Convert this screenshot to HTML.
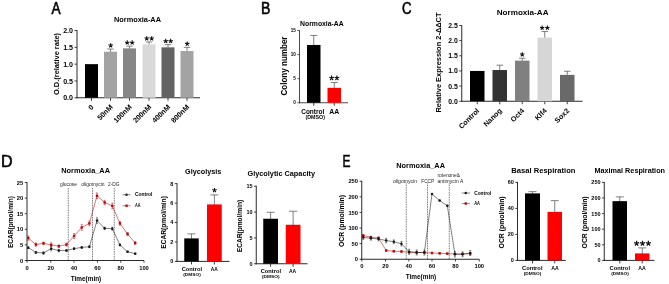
<!DOCTYPE html>
<html><head><meta charset="utf-8"><title>Figure</title>
<style>html,body{margin:0;padding:0;background:#fff;}svg{display:block;filter:blur(0.3px);}text{font-family:'Liberation Sans', sans-serif;}</style>
</head><body>
<svg width="669" height="284" viewBox="0 0 669 284">
<rect width="669" height="284" fill="#fff"/>
<text transform="translate(51.52,13.90) scale(0.854,1)" font-size="15.99" fill="#000" stroke="#000" stroke-width="0.6">A</text>
<text transform="translate(260.96,14.00) scale(0.874,1)" font-size="16.13" fill="#000" stroke="#000" stroke-width="0.6">B</text>
<text transform="translate(401.91,14.10) scale(0.817,1)" font-size="16.13" fill="#000" stroke="#000" stroke-width="0.6">C</text>
<text transform="translate(0.90,166.70) scale(0.935,1)" font-size="17.15" fill="#000" stroke="#000" stroke-width="0.6">D</text>
<text transform="translate(342.43,166.70) scale(0.697,1)" font-size="17.15" fill="#000" stroke="#000" stroke-width="0.6">E</text>
<line x1="77.00" y1="30.00" x2="77.00" y2="98.25" stroke="#2a2a2a" stroke-width="1.0" />
<line x1="76.50" y1="97.75" x2="200.00" y2="97.75" stroke="#2a2a2a" stroke-width="1.0" />
<line x1="74.50" y1="97.75" x2="77.00" y2="97.75" stroke="#2a2a2a" stroke-width="0.9" />
<text x="73.00" y="100.31" font-size="7.1" font-weight="bold" fill="#000" text-anchor="end" >0.0</text>
<line x1="74.50" y1="80.95" x2="77.00" y2="80.95" stroke="#2a2a2a" stroke-width="0.9" />
<text x="73.00" y="83.51" font-size="7.1" font-weight="bold" fill="#000" text-anchor="end" >0.5</text>
<line x1="74.50" y1="64.15" x2="77.00" y2="64.15" stroke="#2a2a2a" stroke-width="0.9" />
<text x="73.00" y="66.71" font-size="7.1" font-weight="bold" fill="#000" text-anchor="end" >1.0</text>
<line x1="74.50" y1="47.35" x2="77.00" y2="47.35" stroke="#2a2a2a" stroke-width="0.9" />
<text x="73.00" y="49.91" font-size="7.1" font-weight="bold" fill="#000" text-anchor="end" >1.5</text>
<line x1="74.50" y1="30.55" x2="77.00" y2="30.55" stroke="#2a2a2a" stroke-width="0.9" />
<text x="73.00" y="33.11" font-size="7.1" font-weight="bold" fill="#000" text-anchor="end" >2.0</text>
<text x="114.00" y="21.66" font-size="7.4" font-weight="bold" fill="#000" textLength="47.00" lengthAdjust="spacingAndGlyphs">Normoxia-AA</text>
<text transform="translate(59.45,95.00) rotate(-90)" font-size="6.8" font-weight="bold" fill="#000" textLength="62.00" lengthAdjust="spacingAndGlyphs">O.D.(relative rate)</text>
<line x1="91.50" y1="97.75" x2="91.50" y2="100.75" stroke="#2a2a2a" stroke-width="0.9" />
<rect x="85.00" y="64.15" width="13.00" height="33.60" fill="#000"/>
<text transform="translate(94.20,107.55) rotate(-45)" font-size="7.2" font-weight="bold" fill="#000" text-anchor="end">0</text>
<line x1="110.50" y1="97.75" x2="110.50" y2="100.75" stroke="#2a2a2a" stroke-width="0.9" />
<line x1="110.50" y1="49.03" x2="110.50" y2="52.22" stroke="#555" stroke-width="0.75" />
<line x1="107.25" y1="49.03" x2="113.75" y2="49.03" stroke="#555" stroke-width="0.75" />
<rect x="104.00" y="51.72" width="13.00" height="46.03" fill="#a3a3a3"/>
<path d="M110.70,45.53L110.70,43.23M110.70,45.53L112.89,44.82M110.70,45.53L112.05,47.39M110.70,45.53L109.35,47.39M110.70,45.53L108.51,44.82" stroke="#111" stroke-width="1.1" fill="none" stroke-linecap="butt"/>
<text transform="translate(113.20,107.55) rotate(-45)" font-size="7.2" font-weight="bold" fill="#000" text-anchor="end">50nM</text>
<line x1="129.50" y1="97.75" x2="129.50" y2="100.75" stroke="#2a2a2a" stroke-width="0.9" />
<line x1="129.50" y1="46.17" x2="129.50" y2="48.86" stroke="#555" stroke-width="0.75" />
<line x1="126.25" y1="46.17" x2="132.75" y2="46.17" stroke="#555" stroke-width="0.75" />
<rect x="123.00" y="48.36" width="13.00" height="49.39" fill="#868686"/>
<path d="M127.22,42.67L127.22,40.37M127.22,42.67L129.41,41.96M127.22,42.67L128.58,44.53M127.22,42.67L125.87,44.53M127.22,42.67L125.04,41.96" stroke="#111" stroke-width="1.1" fill="none" stroke-linecap="butt"/>
<path d="M132.17,42.67L132.17,40.37M132.17,42.67L134.36,41.96M132.17,42.67L133.53,44.53M132.17,42.67L130.82,44.53M132.17,42.67L129.99,41.96" stroke="#111" stroke-width="1.1" fill="none" stroke-linecap="butt"/>
<text transform="translate(132.20,107.55) rotate(-45)" font-size="7.2" font-weight="bold" fill="#000" text-anchor="end">100nM</text>
<line x1="149.00" y1="97.75" x2="149.00" y2="100.75" stroke="#2a2a2a" stroke-width="0.9" />
<line x1="149.00" y1="41.97" x2="149.00" y2="44.83" stroke="#555" stroke-width="0.75" />
<line x1="145.75" y1="41.97" x2="152.25" y2="41.97" stroke="#555" stroke-width="0.75" />
<rect x="142.50" y="44.33" width="13.00" height="53.42" fill="#d9d9d9"/>
<path d="M146.72,38.47L146.72,36.17M146.72,38.47L148.91,37.76M146.72,38.47L148.08,40.33M146.72,38.47L145.37,40.33M146.72,38.47L144.54,37.76" stroke="#111" stroke-width="1.1" fill="none" stroke-linecap="butt"/>
<path d="M151.67,38.47L151.67,36.17M151.67,38.47L153.86,37.76M151.67,38.47L153.03,40.33M151.67,38.47L150.32,40.33M151.67,38.47L149.49,37.76" stroke="#111" stroke-width="1.1" fill="none" stroke-linecap="butt"/>
<text transform="translate(151.70,107.55) rotate(-45)" font-size="7.2" font-weight="bold" fill="#000" text-anchor="end">200nM</text>
<line x1="168.00" y1="97.75" x2="168.00" y2="100.75" stroke="#2a2a2a" stroke-width="0.9" />
<line x1="168.00" y1="44.66" x2="168.00" y2="47.85" stroke="#555" stroke-width="0.75" />
<line x1="164.75" y1="44.66" x2="171.25" y2="44.66" stroke="#555" stroke-width="0.75" />
<rect x="161.50" y="47.35" width="13.00" height="50.40" fill="#636363"/>
<path d="M165.72,41.16L165.72,38.86M165.72,41.16L167.91,40.45M165.72,41.16L167.08,43.02M165.72,41.16L164.37,43.02M165.72,41.16L163.54,40.45" stroke="#111" stroke-width="1.1" fill="none" stroke-linecap="butt"/>
<path d="M170.67,41.16L170.67,38.86M170.67,41.16L172.86,40.45M170.67,41.16L172.03,43.02M170.67,41.16L169.32,43.02M170.67,41.16L168.49,40.45" stroke="#111" stroke-width="1.1" fill="none" stroke-linecap="butt"/>
<text transform="translate(170.70,107.55) rotate(-45)" font-size="7.2" font-weight="bold" fill="#000" text-anchor="end">400nM</text>
<line x1="187.00" y1="97.75" x2="187.00" y2="100.75" stroke="#2a2a2a" stroke-width="0.9" />
<line x1="187.00" y1="47.35" x2="187.00" y2="51.55" stroke="#555" stroke-width="0.75" />
<line x1="183.75" y1="47.35" x2="190.25" y2="47.35" stroke="#555" stroke-width="0.75" />
<rect x="180.50" y="51.05" width="13.00" height="46.70" fill="#a3a3a3"/>
<path d="M187.20,43.85L187.20,41.55M187.20,43.85L189.39,43.14M187.20,43.85L188.55,45.71M187.20,43.85L185.85,45.71M187.20,43.85L185.01,43.14" stroke="#111" stroke-width="1.1" fill="none" stroke-linecap="butt"/>
<text transform="translate(189.70,107.55) rotate(-45)" font-size="7.2" font-weight="bold" fill="#000" text-anchor="end">800nM</text>
<line x1="299.50" y1="30.07" x2="299.50" y2="103.17" stroke="#2a2a2a" stroke-width="0.85" />
<line x1="299.07" y1="102.75" x2="348.00" y2="102.75" stroke="#2a2a2a" stroke-width="0.85" />
<line x1="297.30" y1="102.75" x2="299.50" y2="102.75" stroke="#2a2a2a" stroke-width="0.765" />
<text x="295.80" y="104.41" font-size="4.6" font-weight="bold" fill="#000" text-anchor="end" >0</text>
<line x1="297.30" y1="78.67" x2="299.50" y2="78.67" stroke="#2a2a2a" stroke-width="0.765" />
<text x="295.80" y="80.33" font-size="4.6" font-weight="bold" fill="#000" text-anchor="end" >5</text>
<line x1="297.30" y1="54.59" x2="299.50" y2="54.59" stroke="#2a2a2a" stroke-width="0.765" />
<text x="295.80" y="56.25" font-size="4.6" font-weight="bold" fill="#000" text-anchor="end" >10</text>
<line x1="297.30" y1="30.51" x2="299.50" y2="30.51" stroke="#2a2a2a" stroke-width="0.765" />
<text x="295.80" y="32.17" font-size="4.6" font-weight="bold" fill="#000" text-anchor="end" >15</text>
<text x="300.00" y="25.70" font-size="6.8" font-weight="bold" fill="#000" textLength="43.75" lengthAdjust="spacingAndGlyphs">Normoxia-AA</text>
<text transform="translate(286.70,95.50) rotate(-90)" font-size="8.2" font-weight="bold" fill="#000" textLength="59.00" lengthAdjust="spacingAndGlyphs">Colony number</text>
<line x1="313.75" y1="102.75" x2="313.75" y2="105.75" stroke="#2a2a2a" stroke-width="0.9" />
<line x1="313.75" y1="35.52" x2="313.75" y2="45.46" stroke="#555" stroke-width="0.75" />
<line x1="310.25" y1="35.52" x2="317.25" y2="35.52" stroke="#555" stroke-width="0.75" />
<rect x="307.00" y="44.96" width="13.50" height="57.79" fill="#000"/>
<line x1="334.25" y1="102.75" x2="334.25" y2="105.75" stroke="#2a2a2a" stroke-width="0.9" />
<line x1="334.25" y1="82.52" x2="334.25" y2="88.32" stroke="#555" stroke-width="0.75" />
<line x1="330.75" y1="82.52" x2="337.75" y2="82.52" stroke="#555" stroke-width="0.75" />
<rect x="327.50" y="87.82" width="13.50" height="14.93" fill="#ff0000"/>
<path d="M331.60,78.05L331.60,75.55M331.60,78.05L333.98,77.28M331.60,78.05L333.07,80.07M331.60,78.05L330.13,80.07M331.60,78.05L329.22,77.28" stroke="#111" stroke-width="1.15" fill="none" stroke-linecap="butt"/>
<path d="M336.90,78.05L336.90,75.55M336.90,78.05L339.28,77.28M336.90,78.05L338.37,80.07M336.90,78.05L335.43,80.07M336.90,78.05L334.52,77.28" stroke="#111" stroke-width="1.15" fill="none" stroke-linecap="butt"/>
<text x="301.25" y="113.52" font-size="7" font-weight="bold" fill="#000" textLength="23.00" lengthAdjust="spacingAndGlyphs">Control</text>
<text x="305.50" y="119.16" font-size="4.6" font-weight="bold" fill="#000" textLength="19.50" lengthAdjust="spacingAndGlyphs">(DMSO)</text>
<text x="329.25" y="113.52" font-size="7" font-weight="bold" fill="#000" textLength="10.00" lengthAdjust="spacingAndGlyphs">AA</text>
<line x1="461.75" y1="25.00" x2="461.75" y2="101.75" stroke="#2a2a2a" stroke-width="1.0" />
<line x1="461.25" y1="101.25" x2="582.50" y2="101.25" stroke="#2a2a2a" stroke-width="1.0" />
<line x1="459.25" y1="101.25" x2="461.75" y2="101.25" stroke="#2a2a2a" stroke-width="0.9" />
<text x="457.75" y="103.73" font-size="6.9" font-weight="bold" fill="#000" text-anchor="end" >0.0</text>
<line x1="459.25" y1="86.10" x2="461.75" y2="86.10" stroke="#2a2a2a" stroke-width="0.9" />
<text x="457.75" y="88.58" font-size="6.9" font-weight="bold" fill="#000" text-anchor="end" >0.5</text>
<line x1="459.25" y1="70.95" x2="461.75" y2="70.95" stroke="#2a2a2a" stroke-width="0.9" />
<text x="457.75" y="73.43" font-size="6.9" font-weight="bold" fill="#000" text-anchor="end" >1.0</text>
<line x1="459.25" y1="55.80" x2="461.75" y2="55.80" stroke="#2a2a2a" stroke-width="0.9" />
<text x="457.75" y="58.28" font-size="6.9" font-weight="bold" fill="#000" text-anchor="end" >1.5</text>
<line x1="459.25" y1="40.65" x2="461.75" y2="40.65" stroke="#2a2a2a" stroke-width="0.9" />
<text x="457.75" y="43.13" font-size="6.9" font-weight="bold" fill="#000" text-anchor="end" >2.0</text>
<line x1="459.25" y1="25.50" x2="461.75" y2="25.50" stroke="#2a2a2a" stroke-width="0.9" />
<text x="457.75" y="27.98" font-size="6.9" font-weight="bold" fill="#000" text-anchor="end" >2.5</text>
<text x="496.75" y="15.38" font-size="8" font-weight="bold" fill="#000" textLength="51.75" lengthAdjust="spacingAndGlyphs">Normoxia-AA</text>
<text transform="translate(440.63,112.50) rotate(-90)" font-size="7.3" font-weight="bold" fill="#000" textLength="100.00" lengthAdjust="spacingAndGlyphs">Relative Expression 2-ΔΔCT</text>
<line x1="477.25" y1="101.25" x2="477.25" y2="104.25" stroke="#2a2a2a" stroke-width="0.9" />
<rect x="470.00" y="70.95" width="14.50" height="30.30" fill="#000"/>
<text transform="translate(479.75,111.25) rotate(-45)" font-size="7.2" font-weight="bold" fill="#000" text-anchor="end">Control</text>
<line x1="499.75" y1="101.25" x2="499.75" y2="104.25" stroke="#2a2a2a" stroke-width="0.9" />
<line x1="499.75" y1="65.19" x2="499.75" y2="70.54" stroke="#555" stroke-width="0.75" />
<line x1="496.50" y1="65.19" x2="503.00" y2="65.19" stroke="#555" stroke-width="0.75" />
<rect x="492.50" y="70.04" width="14.50" height="31.21" fill="#333333"/>
<text transform="translate(502.25,111.25) rotate(-45)" font-size="7.2" font-weight="bold" fill="#000" text-anchor="end">Nanog</text>
<line x1="522.25" y1="101.25" x2="522.25" y2="104.25" stroke="#2a2a2a" stroke-width="0.9" />
<line x1="522.25" y1="58.22" x2="522.25" y2="61.15" stroke="#555" stroke-width="0.75" />
<line x1="519.00" y1="58.22" x2="525.50" y2="58.22" stroke="#555" stroke-width="0.75" />
<rect x="515.00" y="60.65" width="14.50" height="40.60" fill="#808080"/>
<path d="M522.25,54.52L522.25,52.22M522.25,54.52L524.44,53.81M522.25,54.52L523.60,56.38M522.25,54.52L520.90,56.38M522.25,54.52L520.06,53.81" stroke="#111" stroke-width="1.1" fill="none" stroke-linecap="butt"/>
<text transform="translate(524.75,111.25) rotate(-45)" font-size="7.2" font-weight="bold" fill="#000" text-anchor="end">Oct4</text>
<line x1="544.75" y1="101.25" x2="544.75" y2="104.25" stroke="#2a2a2a" stroke-width="0.9" />
<line x1="544.75" y1="31.56" x2="544.75" y2="38.12" stroke="#555" stroke-width="0.75" />
<line x1="541.50" y1="31.56" x2="548.00" y2="31.56" stroke="#555" stroke-width="0.75" />
<rect x="537.50" y="37.62" width="14.50" height="63.63" fill="#d6d6d6"/>
<path d="M542.12,27.86L542.12,25.56M542.12,27.86L544.31,27.15M542.12,27.86L543.48,29.72M542.12,27.86L540.77,29.72M542.12,27.86L539.94,27.15" stroke="#111" stroke-width="1.1" fill="none" stroke-linecap="butt"/>
<path d="M547.38,27.86L547.38,25.56M547.38,27.86L549.56,27.15M547.38,27.86L548.73,29.72M547.38,27.86L546.02,29.72M547.38,27.86L545.19,27.15" stroke="#111" stroke-width="1.1" fill="none" stroke-linecap="butt"/>
<text transform="translate(547.25,111.25) rotate(-45)" font-size="7.2" font-weight="bold" fill="#000" text-anchor="end">Klf4</text>
<line x1="567.25" y1="101.25" x2="567.25" y2="104.25" stroke="#2a2a2a" stroke-width="0.9" />
<line x1="567.25" y1="71.25" x2="567.25" y2="75.39" stroke="#555" stroke-width="0.75" />
<line x1="564.00" y1="71.25" x2="570.50" y2="71.25" stroke="#555" stroke-width="0.75" />
<rect x="560.00" y="74.89" width="14.50" height="26.36" fill="#696969"/>
<text transform="translate(569.75,111.25) rotate(-45)" font-size="7.2" font-weight="bold" fill="#000" text-anchor="end">Sox2</text>
<line x1="27.00" y1="182.00" x2="27.00" y2="261.00" stroke="#2a2a2a" stroke-width="1.0" />
<line x1="26.50" y1="260.50" x2="144.00" y2="260.50" stroke="#2a2a2a" stroke-width="1.0" />
<line x1="24.80" y1="260.50" x2="27.00" y2="260.50" stroke="#2a2a2a" stroke-width="0.9" />
<text x="23.30" y="262.59" font-size="5.8" font-weight="bold" fill="#000" text-anchor="end" >0</text>
<line x1="24.80" y1="244.90" x2="27.00" y2="244.90" stroke="#2a2a2a" stroke-width="0.9" />
<text x="23.30" y="246.99" font-size="5.8" font-weight="bold" fill="#000" text-anchor="end" >5</text>
<line x1="24.80" y1="229.30" x2="27.00" y2="229.30" stroke="#2a2a2a" stroke-width="0.9" />
<text x="23.30" y="231.39" font-size="5.8" font-weight="bold" fill="#000" text-anchor="end" >10</text>
<line x1="24.80" y1="213.70" x2="27.00" y2="213.70" stroke="#2a2a2a" stroke-width="0.9" />
<text x="23.30" y="215.79" font-size="5.8" font-weight="bold" fill="#000" text-anchor="end" >15</text>
<line x1="24.80" y1="198.10" x2="27.00" y2="198.10" stroke="#2a2a2a" stroke-width="0.9" />
<text x="23.30" y="200.19" font-size="5.8" font-weight="bold" fill="#000" text-anchor="end" >20</text>
<line x1="24.80" y1="182.50" x2="27.00" y2="182.50" stroke="#2a2a2a" stroke-width="0.9" />
<text x="23.30" y="184.59" font-size="5.8" font-weight="bold" fill="#000" text-anchor="end" >25</text>
<line x1="27.00" y1="260.50" x2="27.00" y2="262.70" stroke="#2a2a2a" stroke-width="0.9" />
<line x1="50.75" y1="260.50" x2="50.75" y2="262.70" stroke="#2a2a2a" stroke-width="0.9" />
<line x1="74.00" y1="260.50" x2="74.00" y2="262.70" stroke="#2a2a2a" stroke-width="0.9" />
<line x1="97.50" y1="260.50" x2="97.50" y2="262.70" stroke="#2a2a2a" stroke-width="0.9" />
<line x1="120.75" y1="260.50" x2="120.75" y2="262.70" stroke="#2a2a2a" stroke-width="0.9" />
<line x1="144.00" y1="260.50" x2="144.00" y2="262.70" stroke="#2a2a2a" stroke-width="0.9" />
<text x="27.00" y="269.69" font-size="5.8" font-weight="bold" fill="#000" text-anchor="middle" >0</text>
<text x="50.75" y="269.69" font-size="5.8" font-weight="bold" fill="#000" text-anchor="middle" >20</text>
<text x="74.00" y="269.69" font-size="5.8" font-weight="bold" fill="#000" text-anchor="middle" >40</text>
<text x="97.50" y="269.69" font-size="5.8" font-weight="bold" fill="#000" text-anchor="middle" >60</text>
<text x="120.75" y="269.69" font-size="5.8" font-weight="bold" fill="#000" text-anchor="middle" >80</text>
<text x="144.00" y="269.69" font-size="5.8" font-weight="bold" fill="#000" text-anchor="middle" >100</text>
<text x="61.25" y="172.66" font-size="7.4" font-weight="bold" fill="#000" textLength="48.75" lengthAdjust="spacingAndGlyphs">Normoxia_AA</text>
<text x="70.75" y="281.27" font-size="7" font-weight="bold" fill="#000" textLength="30.50" lengthAdjust="spacingAndGlyphs">Time(min)</text>
<text transform="translate(12.91,248.00) rotate(-90)" font-size="6.7" font-weight="bold" fill="#000" textLength="52.00" lengthAdjust="spacingAndGlyphs">ECAR(pmol/min)</text>
<line x1="68.25" y1="188.00" x2="68.25" y2="260.50" stroke="#222" stroke-width="0.7" stroke-dasharray="0.9,0.8"/>
<line x1="92.50" y1="188.00" x2="92.50" y2="260.50" stroke="#222" stroke-width="0.7" stroke-dasharray="0.9,0.8"/>
<line x1="114.25" y1="188.00" x2="114.25" y2="260.50" stroke="#222" stroke-width="0.7" stroke-dasharray="0.9,0.8"/>
<text x="60.00" y="186.34" font-size="5.1" font-weight="normal" fill="#262626" textLength="17.00" lengthAdjust="spacingAndGlyphs">glucose</text>
<text x="81.25" y="186.34" font-size="5.1" font-weight="normal" fill="#262626" textLength="23.25" lengthAdjust="spacingAndGlyphs">oligomycin</text>
<text x="108.00" y="186.34" font-size="5.1" font-weight="normal" fill="#262626" textLength="11.50" lengthAdjust="spacingAndGlyphs">2-DG</text>
<polyline fill="none" stroke="#1a1a1a" stroke-width="0.55" points="28.25,247.71 35.89,252.39 43.53,253.01 51.17,248.64 58.81,250.52 66.45,250.52 74.09,248.64 81.73,247.40 89.37,246.77 97.01,220.56 104.65,228.36 112.29,228.68 119.93,244.90 127.57,251.76 135.21,253.64"/>
<line x1="28.25" y1="246.77" x2="28.25" y2="248.64" stroke="#1a1a1a" stroke-width="0.5" />
<line x1="27.25" y1="246.77" x2="29.25" y2="246.77" stroke="#1a1a1a" stroke-width="0.5" />
<line x1="27.25" y1="248.64" x2="29.25" y2="248.64" stroke="#1a1a1a" stroke-width="0.5" />
<circle cx="28.25" cy="247.71" r="1.25" fill="#1a1a1a"/>
<line x1="35.89" y1="251.45" x2="35.89" y2="253.32" stroke="#1a1a1a" stroke-width="0.5" />
<line x1="34.89" y1="251.45" x2="36.89" y2="251.45" stroke="#1a1a1a" stroke-width="0.5" />
<line x1="34.89" y1="253.32" x2="36.89" y2="253.32" stroke="#1a1a1a" stroke-width="0.5" />
<circle cx="35.89" cy="252.39" r="1.25" fill="#1a1a1a"/>
<line x1="43.53" y1="251.76" x2="43.53" y2="254.26" stroke="#1a1a1a" stroke-width="0.5" />
<line x1="42.53" y1="251.76" x2="44.53" y2="251.76" stroke="#1a1a1a" stroke-width="0.5" />
<line x1="42.53" y1="254.26" x2="44.53" y2="254.26" stroke="#1a1a1a" stroke-width="0.5" />
<circle cx="43.53" cy="253.01" r="1.25" fill="#1a1a1a"/>
<line x1="51.17" y1="246.46" x2="51.17" y2="250.83" stroke="#1a1a1a" stroke-width="0.5" />
<line x1="50.17" y1="246.46" x2="52.17" y2="246.46" stroke="#1a1a1a" stroke-width="0.5" />
<line x1="50.17" y1="250.83" x2="52.17" y2="250.83" stroke="#1a1a1a" stroke-width="0.5" />
<circle cx="51.17" cy="248.64" r="1.25" fill="#1a1a1a"/>
<line x1="58.81" y1="249.27" x2="58.81" y2="251.76" stroke="#1a1a1a" stroke-width="0.5" />
<line x1="57.81" y1="249.27" x2="59.81" y2="249.27" stroke="#1a1a1a" stroke-width="0.5" />
<line x1="57.81" y1="251.76" x2="59.81" y2="251.76" stroke="#1a1a1a" stroke-width="0.5" />
<circle cx="58.81" cy="250.52" r="1.25" fill="#1a1a1a"/>
<line x1="66.45" y1="249.58" x2="66.45" y2="251.45" stroke="#1a1a1a" stroke-width="0.5" />
<line x1="65.45" y1="249.58" x2="67.45" y2="249.58" stroke="#1a1a1a" stroke-width="0.5" />
<line x1="65.45" y1="251.45" x2="67.45" y2="251.45" stroke="#1a1a1a" stroke-width="0.5" />
<circle cx="66.45" cy="250.52" r="1.25" fill="#1a1a1a"/>
<line x1="74.09" y1="247.71" x2="74.09" y2="249.58" stroke="#1a1a1a" stroke-width="0.5" />
<line x1="73.09" y1="247.71" x2="75.09" y2="247.71" stroke="#1a1a1a" stroke-width="0.5" />
<line x1="73.09" y1="249.58" x2="75.09" y2="249.58" stroke="#1a1a1a" stroke-width="0.5" />
<circle cx="74.09" cy="248.64" r="1.25" fill="#1a1a1a"/>
<line x1="81.73" y1="246.46" x2="81.73" y2="248.33" stroke="#1a1a1a" stroke-width="0.5" />
<line x1="80.73" y1="246.46" x2="82.73" y2="246.46" stroke="#1a1a1a" stroke-width="0.5" />
<line x1="80.73" y1="248.33" x2="82.73" y2="248.33" stroke="#1a1a1a" stroke-width="0.5" />
<circle cx="81.73" cy="247.40" r="1.25" fill="#1a1a1a"/>
<line x1="89.37" y1="245.84" x2="89.37" y2="247.71" stroke="#1a1a1a" stroke-width="0.5" />
<line x1="88.37" y1="245.84" x2="90.37" y2="245.84" stroke="#1a1a1a" stroke-width="0.5" />
<line x1="88.37" y1="247.71" x2="90.37" y2="247.71" stroke="#1a1a1a" stroke-width="0.5" />
<circle cx="89.37" cy="246.77" r="1.25" fill="#1a1a1a"/>
<line x1="97.01" y1="217.76" x2="97.01" y2="223.37" stroke="#1a1a1a" stroke-width="0.5" />
<line x1="96.01" y1="217.76" x2="98.01" y2="217.76" stroke="#1a1a1a" stroke-width="0.5" />
<line x1="96.01" y1="223.37" x2="98.01" y2="223.37" stroke="#1a1a1a" stroke-width="0.5" />
<circle cx="97.01" cy="220.56" r="1.25" fill="#1a1a1a"/>
<line x1="104.65" y1="227.12" x2="104.65" y2="229.61" stroke="#1a1a1a" stroke-width="0.5" />
<line x1="103.65" y1="227.12" x2="105.65" y2="227.12" stroke="#1a1a1a" stroke-width="0.5" />
<line x1="103.65" y1="229.61" x2="105.65" y2="229.61" stroke="#1a1a1a" stroke-width="0.5" />
<circle cx="104.65" cy="228.36" r="1.25" fill="#1a1a1a"/>
<line x1="112.29" y1="227.12" x2="112.29" y2="230.24" stroke="#1a1a1a" stroke-width="0.5" />
<line x1="111.29" y1="227.12" x2="113.29" y2="227.12" stroke="#1a1a1a" stroke-width="0.5" />
<line x1="111.29" y1="230.24" x2="113.29" y2="230.24" stroke="#1a1a1a" stroke-width="0.5" />
<circle cx="112.29" cy="228.68" r="1.25" fill="#1a1a1a"/>
<line x1="119.93" y1="243.96" x2="119.93" y2="245.84" stroke="#1a1a1a" stroke-width="0.5" />
<line x1="118.93" y1="243.96" x2="120.93" y2="243.96" stroke="#1a1a1a" stroke-width="0.5" />
<line x1="118.93" y1="245.84" x2="120.93" y2="245.84" stroke="#1a1a1a" stroke-width="0.5" />
<circle cx="119.93" cy="244.90" r="1.25" fill="#1a1a1a"/>
<line x1="127.57" y1="251.14" x2="127.57" y2="252.39" stroke="#1a1a1a" stroke-width="0.5" />
<line x1="126.57" y1="251.14" x2="128.57" y2="251.14" stroke="#1a1a1a" stroke-width="0.5" />
<line x1="126.57" y1="252.39" x2="128.57" y2="252.39" stroke="#1a1a1a" stroke-width="0.5" />
<circle cx="127.57" cy="251.76" r="1.25" fill="#1a1a1a"/>
<line x1="135.21" y1="253.01" x2="135.21" y2="254.26" stroke="#1a1a1a" stroke-width="0.5" />
<line x1="134.21" y1="253.01" x2="136.21" y2="253.01" stroke="#1a1a1a" stroke-width="0.5" />
<line x1="134.21" y1="254.26" x2="136.21" y2="254.26" stroke="#1a1a1a" stroke-width="0.5" />
<circle cx="135.21" cy="253.64" r="1.25" fill="#1a1a1a"/>
<polyline fill="none" stroke="#b30a0a" stroke-width="0.55" points="28.25,238.04 35.89,244.59 43.53,243.34 51.17,244.90 58.81,246.15 66.45,244.59 74.09,236.01 81.73,227.43 89.37,223.37 97.01,195.76 104.65,202.47 112.29,205.90 119.93,223.37 127.57,233.98 135.21,243.03"/>
<line x1="28.25" y1="235.85" x2="28.25" y2="240.22" stroke="#b30a0a" stroke-width="0.5" />
<line x1="27.25" y1="235.85" x2="29.25" y2="235.85" stroke="#b30a0a" stroke-width="0.5" />
<line x1="27.25" y1="240.22" x2="29.25" y2="240.22" stroke="#b30a0a" stroke-width="0.5" />
<rect x="27.05" y="236.84" width="2.4" height="2.4" fill="#b30a0a"/>
<line x1="35.89" y1="243.03" x2="35.89" y2="246.15" stroke="#b30a0a" stroke-width="0.5" />
<line x1="34.89" y1="243.03" x2="36.89" y2="243.03" stroke="#b30a0a" stroke-width="0.5" />
<line x1="34.89" y1="246.15" x2="36.89" y2="246.15" stroke="#b30a0a" stroke-width="0.5" />
<rect x="34.69" y="243.39" width="2.4" height="2.4" fill="#b30a0a"/>
<line x1="43.53" y1="242.09" x2="43.53" y2="244.59" stroke="#b30a0a" stroke-width="0.5" />
<line x1="42.53" y1="242.09" x2="44.53" y2="242.09" stroke="#b30a0a" stroke-width="0.5" />
<line x1="42.53" y1="244.59" x2="44.53" y2="244.59" stroke="#b30a0a" stroke-width="0.5" />
<rect x="42.33" y="242.14" width="2.4" height="2.4" fill="#b30a0a"/>
<line x1="51.17" y1="242.72" x2="51.17" y2="247.08" stroke="#b30a0a" stroke-width="0.5" />
<line x1="50.17" y1="242.72" x2="52.17" y2="242.72" stroke="#b30a0a" stroke-width="0.5" />
<line x1="50.17" y1="247.08" x2="52.17" y2="247.08" stroke="#b30a0a" stroke-width="0.5" />
<rect x="49.97" y="243.70" width="2.4" height="2.4" fill="#b30a0a"/>
<line x1="58.81" y1="244.90" x2="58.81" y2="247.40" stroke="#b30a0a" stroke-width="0.5" />
<line x1="57.81" y1="244.90" x2="59.81" y2="244.90" stroke="#b30a0a" stroke-width="0.5" />
<line x1="57.81" y1="247.40" x2="59.81" y2="247.40" stroke="#b30a0a" stroke-width="0.5" />
<rect x="57.61" y="244.95" width="2.4" height="2.4" fill="#b30a0a"/>
<line x1="66.45" y1="243.03" x2="66.45" y2="246.15" stroke="#b30a0a" stroke-width="0.5" />
<line x1="65.45" y1="243.03" x2="67.45" y2="243.03" stroke="#b30a0a" stroke-width="0.5" />
<line x1="65.45" y1="246.15" x2="67.45" y2="246.15" stroke="#b30a0a" stroke-width="0.5" />
<rect x="65.25" y="243.39" width="2.4" height="2.4" fill="#b30a0a"/>
<line x1="74.09" y1="233.51" x2="74.09" y2="238.50" stroke="#b30a0a" stroke-width="0.5" />
<line x1="73.09" y1="233.51" x2="75.09" y2="233.51" stroke="#b30a0a" stroke-width="0.5" />
<line x1="73.09" y1="238.50" x2="75.09" y2="238.50" stroke="#b30a0a" stroke-width="0.5" />
<rect x="72.89" y="234.81" width="2.4" height="2.4" fill="#b30a0a"/>
<line x1="81.73" y1="224.62" x2="81.73" y2="230.24" stroke="#b30a0a" stroke-width="0.5" />
<line x1="80.73" y1="224.62" x2="82.73" y2="224.62" stroke="#b30a0a" stroke-width="0.5" />
<line x1="80.73" y1="230.24" x2="82.73" y2="230.24" stroke="#b30a0a" stroke-width="0.5" />
<rect x="80.53" y="226.23" width="2.4" height="2.4" fill="#b30a0a"/>
<line x1="89.37" y1="220.88" x2="89.37" y2="225.87" stroke="#b30a0a" stroke-width="0.5" />
<line x1="88.37" y1="220.88" x2="90.37" y2="220.88" stroke="#b30a0a" stroke-width="0.5" />
<line x1="88.37" y1="225.87" x2="90.37" y2="225.87" stroke="#b30a0a" stroke-width="0.5" />
<rect x="88.17" y="222.17" width="2.4" height="2.4" fill="#b30a0a"/>
<line x1="97.01" y1="192.95" x2="97.01" y2="198.57" stroke="#b30a0a" stroke-width="0.5" />
<line x1="96.01" y1="192.95" x2="98.01" y2="192.95" stroke="#b30a0a" stroke-width="0.5" />
<line x1="96.01" y1="198.57" x2="98.01" y2="198.57" stroke="#b30a0a" stroke-width="0.5" />
<rect x="95.81" y="194.56" width="2.4" height="2.4" fill="#b30a0a"/>
<line x1="104.65" y1="200.28" x2="104.65" y2="204.65" stroke="#b30a0a" stroke-width="0.5" />
<line x1="103.65" y1="200.28" x2="105.65" y2="200.28" stroke="#b30a0a" stroke-width="0.5" />
<line x1="103.65" y1="204.65" x2="105.65" y2="204.65" stroke="#b30a0a" stroke-width="0.5" />
<rect x="103.45" y="201.27" width="2.4" height="2.4" fill="#b30a0a"/>
<line x1="112.29" y1="203.09" x2="112.29" y2="208.71" stroke="#b30a0a" stroke-width="0.5" />
<line x1="111.29" y1="203.09" x2="113.29" y2="203.09" stroke="#b30a0a" stroke-width="0.5" />
<line x1="111.29" y1="208.71" x2="113.29" y2="208.71" stroke="#b30a0a" stroke-width="0.5" />
<rect x="111.09" y="204.70" width="2.4" height="2.4" fill="#b30a0a"/>
<line x1="119.93" y1="221.50" x2="119.93" y2="225.24" stroke="#b30a0a" stroke-width="0.5" />
<line x1="118.93" y1="221.50" x2="120.93" y2="221.50" stroke="#b30a0a" stroke-width="0.5" />
<line x1="118.93" y1="225.24" x2="120.93" y2="225.24" stroke="#b30a0a" stroke-width="0.5" />
<rect x="118.73" y="222.17" width="2.4" height="2.4" fill="#b30a0a"/>
<line x1="127.57" y1="232.42" x2="127.57" y2="235.54" stroke="#b30a0a" stroke-width="0.5" />
<line x1="126.57" y1="232.42" x2="128.57" y2="232.42" stroke="#b30a0a" stroke-width="0.5" />
<line x1="126.57" y1="235.54" x2="128.57" y2="235.54" stroke="#b30a0a" stroke-width="0.5" />
<rect x="126.37" y="232.78" width="2.4" height="2.4" fill="#b30a0a"/>
<line x1="135.21" y1="241.78" x2="135.21" y2="244.28" stroke="#b30a0a" stroke-width="0.5" />
<line x1="134.21" y1="241.78" x2="136.21" y2="241.78" stroke="#b30a0a" stroke-width="0.5" />
<line x1="134.21" y1="244.28" x2="136.21" y2="244.28" stroke="#b30a0a" stroke-width="0.5" />
<rect x="134.01" y="241.83" width="2.4" height="2.4" fill="#b30a0a"/>
<line x1="122.50" y1="194.75" x2="130.50" y2="194.75" stroke="#1a1a1a" stroke-width="0.55" />
<circle cx="126.50" cy="194.75" r="1.25" fill="#1a1a1a"/>
<text x="135.00" y="196.48" font-size="4.8" font-weight="bold" fill="#000" textLength="17.50" lengthAdjust="spacingAndGlyphs">Control</text>
<line x1="122.50" y1="205.75" x2="130.50" y2="205.75" stroke="#b30a0a" stroke-width="0.55" />
<rect x="125.30" y="204.55" width="2.4" height="2.4" fill="#b30a0a"/>
<text x="135.00" y="207.48" font-size="4.8" font-weight="bold" fill="#000" textLength="5.50" lengthAdjust="spacingAndGlyphs">AA</text>
<g transform="translate(0,0.4)">
<line x1="177.00" y1="182.75" x2="177.00" y2="261.50" stroke="#2a2a2a" stroke-width="1.0" />
<line x1="176.50" y1="261.00" x2="229.50" y2="261.00" stroke="#2a2a2a" stroke-width="1.0" />
<line x1="174.80" y1="261.00" x2="177.00" y2="261.00" stroke="#2a2a2a" stroke-width="0.9" />
<text x="173.30" y="262.98" font-size="5.5" font-weight="bold" fill="#000" text-anchor="end" >0</text>
<line x1="174.80" y1="241.56" x2="177.00" y2="241.56" stroke="#2a2a2a" stroke-width="0.9" />
<text x="173.30" y="243.54" font-size="5.5" font-weight="bold" fill="#000" text-anchor="end" >2</text>
<line x1="174.80" y1="222.12" x2="177.00" y2="222.12" stroke="#2a2a2a" stroke-width="0.9" />
<text x="173.30" y="224.10" font-size="5.5" font-weight="bold" fill="#000" text-anchor="end" >4</text>
<line x1="174.80" y1="202.68" x2="177.00" y2="202.68" stroke="#2a2a2a" stroke-width="0.9" />
<text x="173.30" y="204.66" font-size="5.5" font-weight="bold" fill="#000" text-anchor="end" >6</text>
<line x1="174.80" y1="183.24" x2="177.00" y2="183.24" stroke="#2a2a2a" stroke-width="0.9" />
<text x="173.30" y="185.22" font-size="5.5" font-weight="bold" fill="#000" text-anchor="end" >8</text>
<text x="185.00" y="173.63" font-size="7.3" font-weight="bold" fill="#000" textLength="36.25" lengthAdjust="spacingAndGlyphs">Glycolysis</text>
<text transform="translate(166.16,248.25) rotate(-90)" font-size="6.7" font-weight="bold" fill="#000" textLength="52.50" lengthAdjust="spacingAndGlyphs">ECAR(pmol/min)</text>
<line x1="191.50" y1="261.00" x2="191.50" y2="264.00" stroke="#2a2a2a" stroke-width="0.9" />
<line x1="191.50" y1="233.50" x2="191.50" y2="238.50" stroke="#555" stroke-width="0.75" />
<line x1="187.50" y1="233.50" x2="195.50" y2="233.50" stroke="#555" stroke-width="0.75" />
<rect x="184.25" y="238.00" width="14.50" height="23.00" fill="#000"/>
<line x1="214.38" y1="261.00" x2="214.38" y2="264.00" stroke="#2a2a2a" stroke-width="0.9" />
<line x1="214.38" y1="194.50" x2="214.38" y2="204.50" stroke="#555" stroke-width="0.75" />
<line x1="210.38" y1="194.50" x2="218.38" y2="194.50" stroke="#555" stroke-width="0.75" />
<rect x="207.00" y="204.00" width="14.75" height="57.00" fill="#ff0000"/>
<path d="M214.50,189.80L214.50,187.50M214.50,189.80L216.69,189.09M214.50,189.80L215.85,191.66M214.50,189.80L213.15,191.66M214.50,189.80L212.31,189.09" stroke="#111" stroke-width="1.1" fill="none" stroke-linecap="butt"/>
<text x="181.75" y="270.70" font-size="6.1" font-weight="bold" fill="#000" textLength="20.25" lengthAdjust="spacingAndGlyphs">Control</text>
<text x="183.25" y="275.55" font-size="4.3" font-weight="bold" fill="#000" textLength="17.50" lengthAdjust="spacingAndGlyphs">(DMSO)</text>
<text x="210.75" y="270.70" font-size="6.1" font-weight="bold" fill="#000" textLength="7.00" lengthAdjust="spacingAndGlyphs">AA</text>
</g>
<line x1="256.25" y1="185.75" x2="256.25" y2="264.25" stroke="#2a2a2a" stroke-width="1.0" />
<line x1="255.75" y1="263.75" x2="307.50" y2="263.75" stroke="#2a2a2a" stroke-width="1.0" />
<line x1="254.05" y1="263.75" x2="256.25" y2="263.75" stroke="#2a2a2a" stroke-width="0.9" />
<text x="252.55" y="265.73" font-size="5.5" font-weight="bold" fill="#000" text-anchor="end" >0</text>
<line x1="254.05" y1="237.90" x2="256.25" y2="237.90" stroke="#2a2a2a" stroke-width="0.9" />
<text x="252.55" y="239.88" font-size="5.5" font-weight="bold" fill="#000" text-anchor="end" >5</text>
<line x1="254.05" y1="212.05" x2="256.25" y2="212.05" stroke="#2a2a2a" stroke-width="0.9" />
<text x="252.55" y="214.03" font-size="5.5" font-weight="bold" fill="#000" text-anchor="end" >10</text>
<line x1="254.05" y1="186.20" x2="256.25" y2="186.20" stroke="#2a2a2a" stroke-width="0.9" />
<text x="252.55" y="188.18" font-size="5.5" font-weight="bold" fill="#000" text-anchor="end" >15</text>
<text x="247.50" y="176.38" font-size="7.3" font-weight="bold" fill="#000" textLength="67.50" lengthAdjust="spacingAndGlyphs">Glycolytic Capacity</text>
<text transform="translate(241.91,252.25) rotate(-90)" font-size="6.7" font-weight="bold" fill="#000" textLength="52.50" lengthAdjust="spacingAndGlyphs">ECAR(pmol/min)</text>
<line x1="270.62" y1="263.75" x2="270.62" y2="266.75" stroke="#2a2a2a" stroke-width="0.9" />
<line x1="270.62" y1="212.25" x2="270.62" y2="219.25" stroke="#555" stroke-width="0.75" />
<line x1="266.62" y1="212.25" x2="274.62" y2="212.25" stroke="#555" stroke-width="0.75" />
<rect x="263.25" y="218.75" width="14.75" height="45.00" fill="#000"/>
<line x1="293.12" y1="263.75" x2="293.12" y2="266.75" stroke="#2a2a2a" stroke-width="0.9" />
<line x1="293.12" y1="211.25" x2="293.12" y2="225.25" stroke="#555" stroke-width="0.75" />
<line x1="289.12" y1="211.25" x2="297.12" y2="211.25" stroke="#555" stroke-width="0.75" />
<rect x="285.75" y="224.75" width="14.75" height="39.00" fill="#ff0000"/>
<text x="260.75" y="273.20" font-size="6.1" font-weight="bold" fill="#000" textLength="20.25" lengthAdjust="spacingAndGlyphs">Control</text>
<text x="262.00" y="278.30" font-size="4.3" font-weight="bold" fill="#000" textLength="17.50" lengthAdjust="spacingAndGlyphs">(DMSO)</text>
<text x="289.00" y="273.20" font-size="6.1" font-weight="bold" fill="#000" textLength="7.25" lengthAdjust="spacingAndGlyphs">AA</text>
<line x1="361.75" y1="180.75" x2="361.75" y2="259.75" stroke="#2a2a2a" stroke-width="1.0" />
<line x1="361.25" y1="259.25" x2="479.25" y2="259.25" stroke="#2a2a2a" stroke-width="1.0" />
<line x1="359.55" y1="259.25" x2="361.75" y2="259.25" stroke="#2a2a2a" stroke-width="0.9" />
<text x="358.05" y="261.34" font-size="5.8" font-weight="bold" fill="#000" text-anchor="end" >0</text>
<line x1="359.55" y1="243.65" x2="361.75" y2="243.65" stroke="#2a2a2a" stroke-width="0.9" />
<text x="358.05" y="245.74" font-size="5.8" font-weight="bold" fill="#000" text-anchor="end" >50</text>
<line x1="359.55" y1="228.05" x2="361.75" y2="228.05" stroke="#2a2a2a" stroke-width="0.9" />
<text x="358.05" y="230.14" font-size="5.8" font-weight="bold" fill="#000" text-anchor="end" >100</text>
<line x1="359.55" y1="212.45" x2="361.75" y2="212.45" stroke="#2a2a2a" stroke-width="0.9" />
<text x="358.05" y="214.54" font-size="5.8" font-weight="bold" fill="#000" text-anchor="end" >150</text>
<line x1="359.55" y1="196.85" x2="361.75" y2="196.85" stroke="#2a2a2a" stroke-width="0.9" />
<text x="358.05" y="198.94" font-size="5.8" font-weight="bold" fill="#000" text-anchor="end" >200</text>
<line x1="359.55" y1="181.25" x2="361.75" y2="181.25" stroke="#2a2a2a" stroke-width="0.9" />
<text x="358.05" y="183.34" font-size="5.8" font-weight="bold" fill="#000" text-anchor="end" >250</text>
<line x1="361.75" y1="259.25" x2="361.75" y2="261.45" stroke="#2a2a2a" stroke-width="0.9" />
<line x1="385.50" y1="259.25" x2="385.50" y2="261.45" stroke="#2a2a2a" stroke-width="0.9" />
<line x1="408.75" y1="259.25" x2="408.75" y2="261.45" stroke="#2a2a2a" stroke-width="0.9" />
<line x1="432.00" y1="259.25" x2="432.00" y2="261.45" stroke="#2a2a2a" stroke-width="0.9" />
<line x1="455.50" y1="259.25" x2="455.50" y2="261.45" stroke="#2a2a2a" stroke-width="0.9" />
<line x1="479.25" y1="259.25" x2="479.25" y2="261.45" stroke="#2a2a2a" stroke-width="0.9" />
<text x="361.75" y="268.44" font-size="5.8" font-weight="bold" fill="#000" text-anchor="middle" >0</text>
<text x="385.50" y="268.44" font-size="5.8" font-weight="bold" fill="#000" text-anchor="middle" >20</text>
<text x="408.75" y="268.44" font-size="5.8" font-weight="bold" fill="#000" text-anchor="middle" >40</text>
<text x="432.00" y="268.44" font-size="5.8" font-weight="bold" fill="#000" text-anchor="middle" >60</text>
<text x="455.50" y="268.44" font-size="5.8" font-weight="bold" fill="#000" text-anchor="middle" >80</text>
<text x="479.25" y="268.44" font-size="5.8" font-weight="bold" fill="#000" text-anchor="middle" >100</text>
<text x="396.25" y="168.41" font-size="7.4" font-weight="bold" fill="#000" textLength="48.75" lengthAdjust="spacingAndGlyphs">Normoxia_AA</text>
<text x="405.75" y="279.27" font-size="7" font-weight="bold" fill="#000" textLength="30.50" lengthAdjust="spacingAndGlyphs">Time(min)</text>
<text transform="translate(344.09,247.00) rotate(-90)" font-size="6.5" font-weight="bold" fill="#000" textLength="52.00" lengthAdjust="spacingAndGlyphs">OCR (pmol/min)</text>
<line x1="406.25" y1="183.50" x2="406.25" y2="259.25" stroke="#222" stroke-width="0.7" stroke-dasharray="0.9,0.8"/>
<line x1="427.50" y1="183.50" x2="427.50" y2="259.25" stroke="#222" stroke-width="0.7" stroke-dasharray="0.9,0.8"/>
<line x1="449.25" y1="183.50" x2="449.25" y2="259.25" stroke="#222" stroke-width="0.7" stroke-dasharray="0.9,0.8"/>
<text x="393.00" y="183.09" font-size="5.1" font-weight="normal" fill="#262626" textLength="24.00" lengthAdjust="spacingAndGlyphs">oligomycin</text>
<text x="421.25" y="183.09" font-size="5.1" font-weight="normal" fill="#262626" textLength="13.00" lengthAdjust="spacingAndGlyphs">FCCP</text>
<text x="437.50" y="177.09" font-size="5.1" font-weight="normal" fill="#262626" textLength="22.50" lengthAdjust="spacingAndGlyphs">rotenone&amp;</text>
<text x="437.50" y="183.09" font-size="5.1" font-weight="normal" fill="#262626" textLength="25.75" lengthAdjust="spacingAndGlyphs">antimycin A</text>
<polyline fill="none" stroke="#b30a0a" stroke-width="0.55" points="363.25,235.54 370.89,237.25 378.53,238.03 386.17,250.51 393.81,251.26 401.45,251.51 409.09,252.26 416.73,252.51 424.37,252.51 432.01,253.01 439.65,253.32 447.29,253.63 454.93,253.95 462.57,253.95 470.21,253.63"/>
<line x1="363.25" y1="234.60" x2="363.25" y2="236.47" stroke="#b30a0a" stroke-width="0.5" />
<line x1="362.25" y1="234.60" x2="364.25" y2="234.60" stroke="#b30a0a" stroke-width="0.5" />
<line x1="362.25" y1="236.47" x2="364.25" y2="236.47" stroke="#b30a0a" stroke-width="0.5" />
<rect x="362.05" y="234.34" width="2.4" height="2.4" fill="#b30a0a"/>
<line x1="370.89" y1="236.32" x2="370.89" y2="238.19" stroke="#b30a0a" stroke-width="0.5" />
<line x1="369.89" y1="236.32" x2="371.89" y2="236.32" stroke="#b30a0a" stroke-width="0.5" />
<line x1="369.89" y1="238.19" x2="371.89" y2="238.19" stroke="#b30a0a" stroke-width="0.5" />
<rect x="369.69" y="236.05" width="2.4" height="2.4" fill="#b30a0a"/>
<line x1="378.53" y1="237.10" x2="378.53" y2="238.97" stroke="#b30a0a" stroke-width="0.5" />
<line x1="377.53" y1="237.10" x2="379.53" y2="237.10" stroke="#b30a0a" stroke-width="0.5" />
<line x1="377.53" y1="238.97" x2="379.53" y2="238.97" stroke="#b30a0a" stroke-width="0.5" />
<rect x="377.33" y="236.83" width="2.4" height="2.4" fill="#b30a0a"/>
<line x1="386.17" y1="249.89" x2="386.17" y2="251.14" stroke="#b30a0a" stroke-width="0.5" />
<line x1="385.17" y1="249.89" x2="387.17" y2="249.89" stroke="#b30a0a" stroke-width="0.5" />
<line x1="385.17" y1="251.14" x2="387.17" y2="251.14" stroke="#b30a0a" stroke-width="0.5" />
<rect x="384.97" y="249.31" width="2.4" height="2.4" fill="#b30a0a"/>
<line x1="393.81" y1="250.64" x2="393.81" y2="251.89" stroke="#b30a0a" stroke-width="0.5" />
<line x1="392.81" y1="250.64" x2="394.81" y2="250.64" stroke="#b30a0a" stroke-width="0.5" />
<line x1="392.81" y1="251.89" x2="394.81" y2="251.89" stroke="#b30a0a" stroke-width="0.5" />
<rect x="392.61" y="250.06" width="2.4" height="2.4" fill="#b30a0a"/>
<line x1="401.45" y1="250.89" x2="401.45" y2="252.14" stroke="#b30a0a" stroke-width="0.5" />
<line x1="400.45" y1="250.89" x2="402.45" y2="250.89" stroke="#b30a0a" stroke-width="0.5" />
<line x1="400.45" y1="252.14" x2="402.45" y2="252.14" stroke="#b30a0a" stroke-width="0.5" />
<rect x="400.25" y="250.31" width="2.4" height="2.4" fill="#b30a0a"/>
<line x1="409.09" y1="251.64" x2="409.09" y2="252.89" stroke="#b30a0a" stroke-width="0.5" />
<line x1="408.09" y1="251.64" x2="410.09" y2="251.64" stroke="#b30a0a" stroke-width="0.5" />
<line x1="408.09" y1="252.89" x2="410.09" y2="252.89" stroke="#b30a0a" stroke-width="0.5" />
<rect x="407.89" y="251.06" width="2.4" height="2.4" fill="#b30a0a"/>
<line x1="416.73" y1="251.89" x2="416.73" y2="253.13" stroke="#b30a0a" stroke-width="0.5" />
<line x1="415.73" y1="251.89" x2="417.73" y2="251.89" stroke="#b30a0a" stroke-width="0.5" />
<line x1="415.73" y1="253.13" x2="417.73" y2="253.13" stroke="#b30a0a" stroke-width="0.5" />
<rect x="415.53" y="251.31" width="2.4" height="2.4" fill="#b30a0a"/>
<line x1="424.37" y1="251.89" x2="424.37" y2="253.13" stroke="#b30a0a" stroke-width="0.5" />
<line x1="423.37" y1="251.89" x2="425.37" y2="251.89" stroke="#b30a0a" stroke-width="0.5" />
<line x1="423.37" y1="253.13" x2="425.37" y2="253.13" stroke="#b30a0a" stroke-width="0.5" />
<rect x="423.17" y="251.31" width="2.4" height="2.4" fill="#b30a0a"/>
<line x1="432.01" y1="252.39" x2="432.01" y2="253.63" stroke="#b30a0a" stroke-width="0.5" />
<line x1="431.01" y1="252.39" x2="433.01" y2="252.39" stroke="#b30a0a" stroke-width="0.5" />
<line x1="431.01" y1="253.63" x2="433.01" y2="253.63" stroke="#b30a0a" stroke-width="0.5" />
<rect x="430.81" y="251.81" width="2.4" height="2.4" fill="#b30a0a"/>
<line x1="439.65" y1="252.70" x2="439.65" y2="253.95" stroke="#b30a0a" stroke-width="0.5" />
<line x1="438.65" y1="252.70" x2="440.65" y2="252.70" stroke="#b30a0a" stroke-width="0.5" />
<line x1="438.65" y1="253.95" x2="440.65" y2="253.95" stroke="#b30a0a" stroke-width="0.5" />
<rect x="438.45" y="252.12" width="2.4" height="2.4" fill="#b30a0a"/>
<line x1="447.29" y1="253.01" x2="447.29" y2="254.26" stroke="#b30a0a" stroke-width="0.5" />
<line x1="446.29" y1="253.01" x2="448.29" y2="253.01" stroke="#b30a0a" stroke-width="0.5" />
<line x1="446.29" y1="254.26" x2="448.29" y2="254.26" stroke="#b30a0a" stroke-width="0.5" />
<rect x="446.09" y="252.43" width="2.4" height="2.4" fill="#b30a0a"/>
<line x1="454.93" y1="253.32" x2="454.93" y2="254.57" stroke="#b30a0a" stroke-width="0.5" />
<line x1="453.93" y1="253.32" x2="455.93" y2="253.32" stroke="#b30a0a" stroke-width="0.5" />
<line x1="453.93" y1="254.57" x2="455.93" y2="254.57" stroke="#b30a0a" stroke-width="0.5" />
<rect x="453.73" y="252.75" width="2.4" height="2.4" fill="#b30a0a"/>
<line x1="462.57" y1="253.32" x2="462.57" y2="254.57" stroke="#b30a0a" stroke-width="0.5" />
<line x1="461.57" y1="253.32" x2="463.57" y2="253.32" stroke="#b30a0a" stroke-width="0.5" />
<line x1="461.57" y1="254.57" x2="463.57" y2="254.57" stroke="#b30a0a" stroke-width="0.5" />
<rect x="461.37" y="252.75" width="2.4" height="2.4" fill="#b30a0a"/>
<line x1="470.21" y1="253.01" x2="470.21" y2="254.26" stroke="#b30a0a" stroke-width="0.5" />
<line x1="469.21" y1="253.01" x2="471.21" y2="253.01" stroke="#b30a0a" stroke-width="0.5" />
<line x1="469.21" y1="254.26" x2="471.21" y2="254.26" stroke="#b30a0a" stroke-width="0.5" />
<rect x="469.01" y="252.43" width="2.4" height="2.4" fill="#b30a0a"/>
<polyline fill="none" stroke="#1a1a1a" stroke-width="0.55" points="363.25,237.50 370.89,238.25 378.53,238.97 386.17,240.53 393.81,241.78 401.45,243.74 409.09,251.76 416.73,252.51 424.37,252.51 432.01,194.04 439.65,200.59 447.29,205.74 454.93,254.26 462.57,254.26 470.21,253.01"/>
<line x1="363.25" y1="235.63" x2="363.25" y2="239.38" stroke="#1a1a1a" stroke-width="0.5" />
<line x1="362.25" y1="235.63" x2="364.25" y2="235.63" stroke="#1a1a1a" stroke-width="0.5" />
<line x1="362.25" y1="239.38" x2="364.25" y2="239.38" stroke="#1a1a1a" stroke-width="0.5" />
<circle cx="363.25" cy="237.50" r="1.25" fill="#1a1a1a"/>
<line x1="370.89" y1="236.38" x2="370.89" y2="240.12" stroke="#1a1a1a" stroke-width="0.5" />
<line x1="369.89" y1="236.38" x2="371.89" y2="236.38" stroke="#1a1a1a" stroke-width="0.5" />
<line x1="369.89" y1="240.12" x2="371.89" y2="240.12" stroke="#1a1a1a" stroke-width="0.5" />
<circle cx="370.89" cy="238.25" r="1.25" fill="#1a1a1a"/>
<line x1="378.53" y1="237.10" x2="378.53" y2="240.84" stroke="#1a1a1a" stroke-width="0.5" />
<line x1="377.53" y1="237.10" x2="379.53" y2="237.10" stroke="#1a1a1a" stroke-width="0.5" />
<line x1="377.53" y1="240.84" x2="379.53" y2="240.84" stroke="#1a1a1a" stroke-width="0.5" />
<circle cx="378.53" cy="238.97" r="1.25" fill="#1a1a1a"/>
<line x1="386.17" y1="238.35" x2="386.17" y2="242.71" stroke="#1a1a1a" stroke-width="0.5" />
<line x1="385.17" y1="238.35" x2="387.17" y2="238.35" stroke="#1a1a1a" stroke-width="0.5" />
<line x1="385.17" y1="242.71" x2="387.17" y2="242.71" stroke="#1a1a1a" stroke-width="0.5" />
<circle cx="386.17" cy="240.53" r="1.25" fill="#1a1a1a"/>
<line x1="393.81" y1="239.91" x2="393.81" y2="243.65" stroke="#1a1a1a" stroke-width="0.5" />
<line x1="392.81" y1="239.91" x2="394.81" y2="239.91" stroke="#1a1a1a" stroke-width="0.5" />
<line x1="392.81" y1="243.65" x2="394.81" y2="243.65" stroke="#1a1a1a" stroke-width="0.5" />
<circle cx="393.81" cy="241.78" r="1.25" fill="#1a1a1a"/>
<line x1="401.45" y1="241.56" x2="401.45" y2="245.93" stroke="#1a1a1a" stroke-width="0.5" />
<line x1="400.45" y1="241.56" x2="402.45" y2="241.56" stroke="#1a1a1a" stroke-width="0.5" />
<line x1="400.45" y1="245.93" x2="402.45" y2="245.93" stroke="#1a1a1a" stroke-width="0.5" />
<circle cx="401.45" cy="243.74" r="1.25" fill="#1a1a1a"/>
<line x1="409.09" y1="249.27" x2="409.09" y2="254.26" stroke="#1a1a1a" stroke-width="0.5" />
<line x1="408.09" y1="249.27" x2="410.09" y2="249.27" stroke="#1a1a1a" stroke-width="0.5" />
<line x1="408.09" y1="254.26" x2="410.09" y2="254.26" stroke="#1a1a1a" stroke-width="0.5" />
<circle cx="409.09" cy="251.76" r="1.25" fill="#1a1a1a"/>
<line x1="416.73" y1="250.01" x2="416.73" y2="255.01" stroke="#1a1a1a" stroke-width="0.5" />
<line x1="415.73" y1="250.01" x2="417.73" y2="250.01" stroke="#1a1a1a" stroke-width="0.5" />
<line x1="415.73" y1="255.01" x2="417.73" y2="255.01" stroke="#1a1a1a" stroke-width="0.5" />
<circle cx="416.73" cy="252.51" r="1.25" fill="#1a1a1a"/>
<line x1="424.37" y1="250.01" x2="424.37" y2="255.01" stroke="#1a1a1a" stroke-width="0.5" />
<line x1="423.37" y1="250.01" x2="425.37" y2="250.01" stroke="#1a1a1a" stroke-width="0.5" />
<line x1="423.37" y1="255.01" x2="425.37" y2="255.01" stroke="#1a1a1a" stroke-width="0.5" />
<circle cx="424.37" cy="252.51" r="1.25" fill="#1a1a1a"/>
<line x1="432.01" y1="193.57" x2="432.01" y2="194.51" stroke="#1a1a1a" stroke-width="0.5" />
<line x1="431.01" y1="193.57" x2="433.01" y2="193.57" stroke="#1a1a1a" stroke-width="0.5" />
<line x1="431.01" y1="194.51" x2="433.01" y2="194.51" stroke="#1a1a1a" stroke-width="0.5" />
<circle cx="432.01" cy="194.04" r="1.25" fill="#1a1a1a"/>
<line x1="439.65" y1="200.13" x2="439.65" y2="201.06" stroke="#1a1a1a" stroke-width="0.5" />
<line x1="438.65" y1="200.13" x2="440.65" y2="200.13" stroke="#1a1a1a" stroke-width="0.5" />
<line x1="438.65" y1="201.06" x2="440.65" y2="201.06" stroke="#1a1a1a" stroke-width="0.5" />
<circle cx="439.65" cy="200.59" r="1.25" fill="#1a1a1a"/>
<line x1="447.29" y1="205.27" x2="447.29" y2="206.21" stroke="#1a1a1a" stroke-width="0.5" />
<line x1="446.29" y1="205.27" x2="448.29" y2="205.27" stroke="#1a1a1a" stroke-width="0.5" />
<line x1="446.29" y1="206.21" x2="448.29" y2="206.21" stroke="#1a1a1a" stroke-width="0.5" />
<circle cx="447.29" cy="205.74" r="1.25" fill="#1a1a1a"/>
<line x1="454.93" y1="251.45" x2="454.93" y2="257.07" stroke="#1a1a1a" stroke-width="0.5" />
<line x1="453.93" y1="251.45" x2="455.93" y2="251.45" stroke="#1a1a1a" stroke-width="0.5" />
<line x1="453.93" y1="257.07" x2="455.93" y2="257.07" stroke="#1a1a1a" stroke-width="0.5" />
<circle cx="454.93" cy="254.26" r="1.25" fill="#1a1a1a"/>
<line x1="462.57" y1="251.76" x2="462.57" y2="256.75" stroke="#1a1a1a" stroke-width="0.5" />
<line x1="461.57" y1="251.76" x2="463.57" y2="251.76" stroke="#1a1a1a" stroke-width="0.5" />
<line x1="461.57" y1="256.75" x2="463.57" y2="256.75" stroke="#1a1a1a" stroke-width="0.5" />
<circle cx="462.57" cy="254.26" r="1.25" fill="#1a1a1a"/>
<line x1="470.21" y1="250.51" x2="470.21" y2="255.51" stroke="#1a1a1a" stroke-width="0.5" />
<line x1="469.21" y1="250.51" x2="471.21" y2="250.51" stroke="#1a1a1a" stroke-width="0.5" />
<line x1="469.21" y1="255.51" x2="471.21" y2="255.51" stroke="#1a1a1a" stroke-width="0.5" />
<circle cx="470.21" cy="253.01" r="1.25" fill="#1a1a1a"/>
<line x1="461.75" y1="193.00" x2="470.00" y2="193.00" stroke="#1a1a1a" stroke-width="0.55" />
<circle cx="465.75" cy="193.00" r="1.25" fill="#1a1a1a"/>
<text x="474.25" y="194.73" font-size="4.8" font-weight="bold" fill="#000" textLength="17.00" lengthAdjust="spacingAndGlyphs">Control</text>
<line x1="461.75" y1="203.50" x2="470.00" y2="203.50" stroke="#b30a0a" stroke-width="0.55" />
<rect x="464.55" y="202.30" width="2.4" height="2.4" fill="#b30a0a"/>
<text x="474.25" y="205.23" font-size="4.8" font-weight="bold" fill="#000" textLength="5.75" lengthAdjust="spacingAndGlyphs">AA</text>
<g transform="translate(0,0.4)">
<line x1="517.50" y1="181.50" x2="517.50" y2="260.50" stroke="#2a2a2a" stroke-width="1.0" />
<line x1="517.00" y1="260.00" x2="565.75" y2="260.00" stroke="#2a2a2a" stroke-width="1.0" />
<line x1="515.30" y1="260.00" x2="517.50" y2="260.00" stroke="#2a2a2a" stroke-width="0.9" />
<text x="513.80" y="261.98" font-size="5.5" font-weight="bold" fill="#000" text-anchor="end" >0</text>
<line x1="515.30" y1="234.00" x2="517.50" y2="234.00" stroke="#2a2a2a" stroke-width="0.9" />
<text x="513.80" y="235.98" font-size="5.5" font-weight="bold" fill="#000" text-anchor="end" >20</text>
<line x1="515.30" y1="208.00" x2="517.50" y2="208.00" stroke="#2a2a2a" stroke-width="0.9" />
<text x="513.80" y="209.98" font-size="5.5" font-weight="bold" fill="#000" text-anchor="end" >40</text>
<line x1="515.30" y1="182.00" x2="517.50" y2="182.00" stroke="#2a2a2a" stroke-width="0.9" />
<text x="513.80" y="183.98" font-size="5.5" font-weight="bold" fill="#000" text-anchor="end" >60</text>
<text x="511.25" y="172.20" font-size="7.5" font-weight="bold" fill="#000" textLength="64.25" lengthAdjust="spacingAndGlyphs">Basal Respiration</text>
<text transform="translate(503.59,248.00) rotate(-90)" font-size="6.5" font-weight="bold" fill="#000" textLength="52.00" lengthAdjust="spacingAndGlyphs">OCR (pmol/min)</text>
<line x1="532.50" y1="260.00" x2="532.50" y2="263.00" stroke="#2a2a2a" stroke-width="0.9" />
<line x1="532.50" y1="191.25" x2="532.50" y2="193.50" stroke="#555" stroke-width="0.75" />
<line x1="528.50" y1="191.25" x2="536.50" y2="191.25" stroke="#555" stroke-width="0.75" />
<rect x="525.00" y="193.00" width="15.00" height="67.00" fill="#000"/>
<line x1="554.75" y1="260.00" x2="554.75" y2="263.00" stroke="#2a2a2a" stroke-width="0.9" />
<line x1="554.75" y1="200.25" x2="554.75" y2="212.00" stroke="#555" stroke-width="0.75" />
<line x1="550.75" y1="200.25" x2="558.75" y2="200.25" stroke="#555" stroke-width="0.75" />
<rect x="547.50" y="211.50" width="14.50" height="48.50" fill="#ff0000"/>
<text x="522.00" y="269.70" font-size="6.1" font-weight="bold" fill="#000" textLength="20.50" lengthAdjust="spacingAndGlyphs">Control</text>
<text x="523.75" y="274.80" font-size="4.3" font-weight="bold" fill="#000" textLength="17.50" lengthAdjust="spacingAndGlyphs">(DMSO)</text>
<text x="551.25" y="269.70" font-size="6.1" font-weight="bold" fill="#000" textLength="7.50" lengthAdjust="spacingAndGlyphs">AA</text>
<line x1="604.25" y1="181.50" x2="604.25" y2="260.50" stroke="#2a2a2a" stroke-width="1.0" />
<line x1="603.75" y1="260.00" x2="654.50" y2="260.00" stroke="#2a2a2a" stroke-width="1.0" />
<line x1="602.05" y1="260.00" x2="604.25" y2="260.00" stroke="#2a2a2a" stroke-width="0.9" />
<text x="600.55" y="261.98" font-size="5.5" font-weight="bold" fill="#000" text-anchor="end" >0</text>
<line x1="602.05" y1="244.40" x2="604.25" y2="244.40" stroke="#2a2a2a" stroke-width="0.9" />
<text x="600.55" y="246.38" font-size="5.5" font-weight="bold" fill="#000" text-anchor="end" >50</text>
<line x1="602.05" y1="228.80" x2="604.25" y2="228.80" stroke="#2a2a2a" stroke-width="0.9" />
<text x="600.55" y="230.78" font-size="5.5" font-weight="bold" fill="#000" text-anchor="end" >100</text>
<line x1="602.05" y1="213.20" x2="604.25" y2="213.20" stroke="#2a2a2a" stroke-width="0.9" />
<text x="600.55" y="215.18" font-size="5.5" font-weight="bold" fill="#000" text-anchor="end" >150</text>
<line x1="602.05" y1="197.60" x2="604.25" y2="197.60" stroke="#2a2a2a" stroke-width="0.9" />
<text x="600.55" y="199.58" font-size="5.5" font-weight="bold" fill="#000" text-anchor="end" >200</text>
<line x1="602.05" y1="182.00" x2="604.25" y2="182.00" stroke="#2a2a2a" stroke-width="0.9" />
<text x="600.55" y="183.98" font-size="5.5" font-weight="bold" fill="#000" text-anchor="end" >250</text>
<text x="594.50" y="172.20" font-size="7.5" font-weight="bold" fill="#000" textLength="70.50" lengthAdjust="spacingAndGlyphs">Maximal Respiration</text>
<text transform="translate(587.34,248.00) rotate(-90)" font-size="6.5" font-weight="bold" fill="#000" textLength="52.00" lengthAdjust="spacingAndGlyphs">OCR (pmol/min)</text>
<line x1="619.75" y1="260.00" x2="619.75" y2="263.00" stroke="#2a2a2a" stroke-width="0.9" />
<line x1="619.75" y1="196.50" x2="619.75" y2="201.25" stroke="#555" stroke-width="0.75" />
<line x1="615.75" y1="196.50" x2="623.75" y2="196.50" stroke="#555" stroke-width="0.75" />
<rect x="612.50" y="200.75" width="14.50" height="59.25" fill="#000"/>
<line x1="642.25" y1="260.00" x2="642.25" y2="263.00" stroke="#2a2a2a" stroke-width="0.9" />
<line x1="642.25" y1="247.50" x2="642.25" y2="253.50" stroke="#555" stroke-width="0.75" />
<line x1="638.25" y1="247.50" x2="646.25" y2="247.50" stroke="#555" stroke-width="0.75" />
<rect x="635.00" y="253.00" width="14.50" height="7.00" fill="#ff0000"/>
<path d="M636.60,243.00L636.60,240.35M636.60,243.00L639.12,242.18M636.60,243.00L638.16,245.14M636.60,243.00L635.04,245.14M636.60,243.00L634.08,242.18" stroke="#111" stroke-width="1.2" fill="none" stroke-linecap="butt"/>
<path d="M642.50,243.00L642.50,240.35M642.50,243.00L645.02,242.18M642.50,243.00L644.06,245.14M642.50,243.00L640.94,245.14M642.50,243.00L639.98,242.18" stroke="#111" stroke-width="1.2" fill="none" stroke-linecap="butt"/>
<path d="M648.40,243.00L648.40,240.35M648.40,243.00L650.92,242.18M648.40,243.00L649.96,245.14M648.40,243.00L646.84,245.14M648.40,243.00L645.88,242.18" stroke="#111" stroke-width="1.2" fill="none" stroke-linecap="butt"/>
<text x="609.50" y="269.70" font-size="6.1" font-weight="bold" fill="#000" textLength="20.50" lengthAdjust="spacingAndGlyphs">Control</text>
<text x="611.25" y="275.05" font-size="4.3" font-weight="bold" fill="#000" textLength="17.50" lengthAdjust="spacingAndGlyphs">(DMSO)</text>
<text x="638.25" y="269.70" font-size="6.1" font-weight="bold" fill="#000" textLength="7.50" lengthAdjust="spacingAndGlyphs">AA</text>
</g>
</svg></body></html>
